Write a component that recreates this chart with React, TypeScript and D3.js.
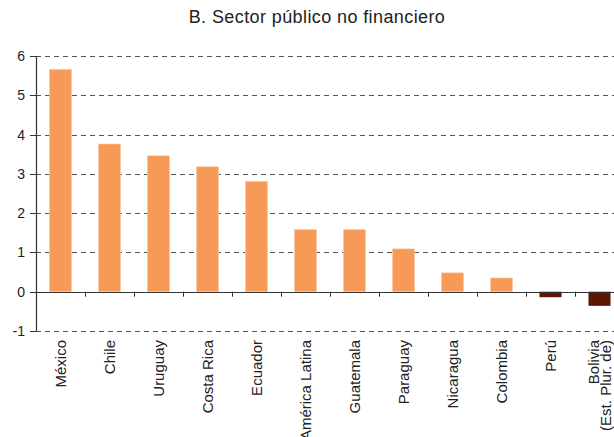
import React from "react";
import * as d3 from "d3";

const categories = ["México", "Chile", "Uruguay", "Costa Rica", "Ecuador", "América Latina", "Guatemala", "Paraguay", "Nicaragua", "Colombia", "Perú", "Bolivia|(Est. Plur. de)"];
const values = [5.66, 3.76, 3.46, 3.18, 2.81, 1.58, 1.58, 1.09, 0.48, 0.35, -0.14, -0.36];
const yTicks = [-1, 0, 1, 2, 3, 4, 5, 6];
const title = "B. Sector público no financiero";

const W = 614, H = 437;
const font = "Liberation Sans, Arial, sans-serif";

export default function App() {
  const x = d3.scaleBand<string>().domain(categories).range([36, 624]).paddingInner(0.55).paddingOuter(0.275);
  const y = d3.scaleLinear().domain([-1, 6]).range([331, 56]);
  const step = x.step();
  const bw = x.bandwidth();
  const x0 = 36, x1 = 624;
  return (
    <svg width={W} height={H} style={{ position: "absolute", left: 0, top: 0, background: "#fff" }} fontFamily={font}>
      <text x={317} y={23} textAnchor="middle" fontSize={18} letterSpacing={0.4} fill="#222">{title}</text>
      {yTicks.map(t => t !== 0 && (
        <line key={"g" + t} x1={x0} x2={x1} y1={Math.round(y(t)) + 0.5} y2={Math.round(y(t)) + 0.5} stroke="#555" strokeDasharray="5,4" strokeWidth={1} />
      ))}
      {categories.map((c, i) => {
        const v = values[i];
        const top = Math.min(y(v), y(0));
        const h = Math.abs(y(v) - y(0));
        return <rect key={c} x={x(c)!} y={top} width={bw} height={h} fill={v >= 0 ? "#F79A58" : "#5E1604"} stroke={v >= 0 ? "#FBC9A4" : "none"} strokeWidth={0.6} />;
      })}
      <line x1={x0} x2={x1} y1={Math.round(y(0)) + 0.5} y2={Math.round(y(0)) + 0.5} stroke="#333" strokeWidth={1.2} />
      <line x1={x0 + 0.5} x2={x0 + 0.5} y1={y(6)} y2={y(-1)} stroke="#333" strokeWidth={1.2} />
      {yTicks.map(t => (
        <g key={"t" + t}>
          <line x1={x0 - 6} x2={x0} y1={Math.round(y(t)) + 0.5} y2={Math.round(y(t)) + 0.5} stroke="#333" />
          <text x={25} y={y(t)} dy="0.36em" textAnchor="end" fontSize={14} fill="#222">{t}</text>
        </g>
      ))}
      {categories.map((c, i) => {
        const bx = Math.round((x(c)! + bw / 2 + step / 2)) + 0.5;
        return <line key={"xt" + i} x1={bx} x2={bx} y1={y(0)} y2={y(0) + 5} stroke="#333" />;
      })}
      {categories.map(c => {
        const cx = x(c)! + bw / 2;
        const lines = c.split("|");
        return (
          <text key={"l" + c} transform={`translate(${cx},340) rotate(-90)`} textAnchor="end" fontSize={15} fill="#222">
            {lines.map((ln, k) => (
              <tspan key={k} x={0} y={(k - (lines.length - 1) / 2) * 12.5 + 5.4}>{ln}</tspan>
            ))}
          </text>
        );
      })}
    </svg>
  );
}
